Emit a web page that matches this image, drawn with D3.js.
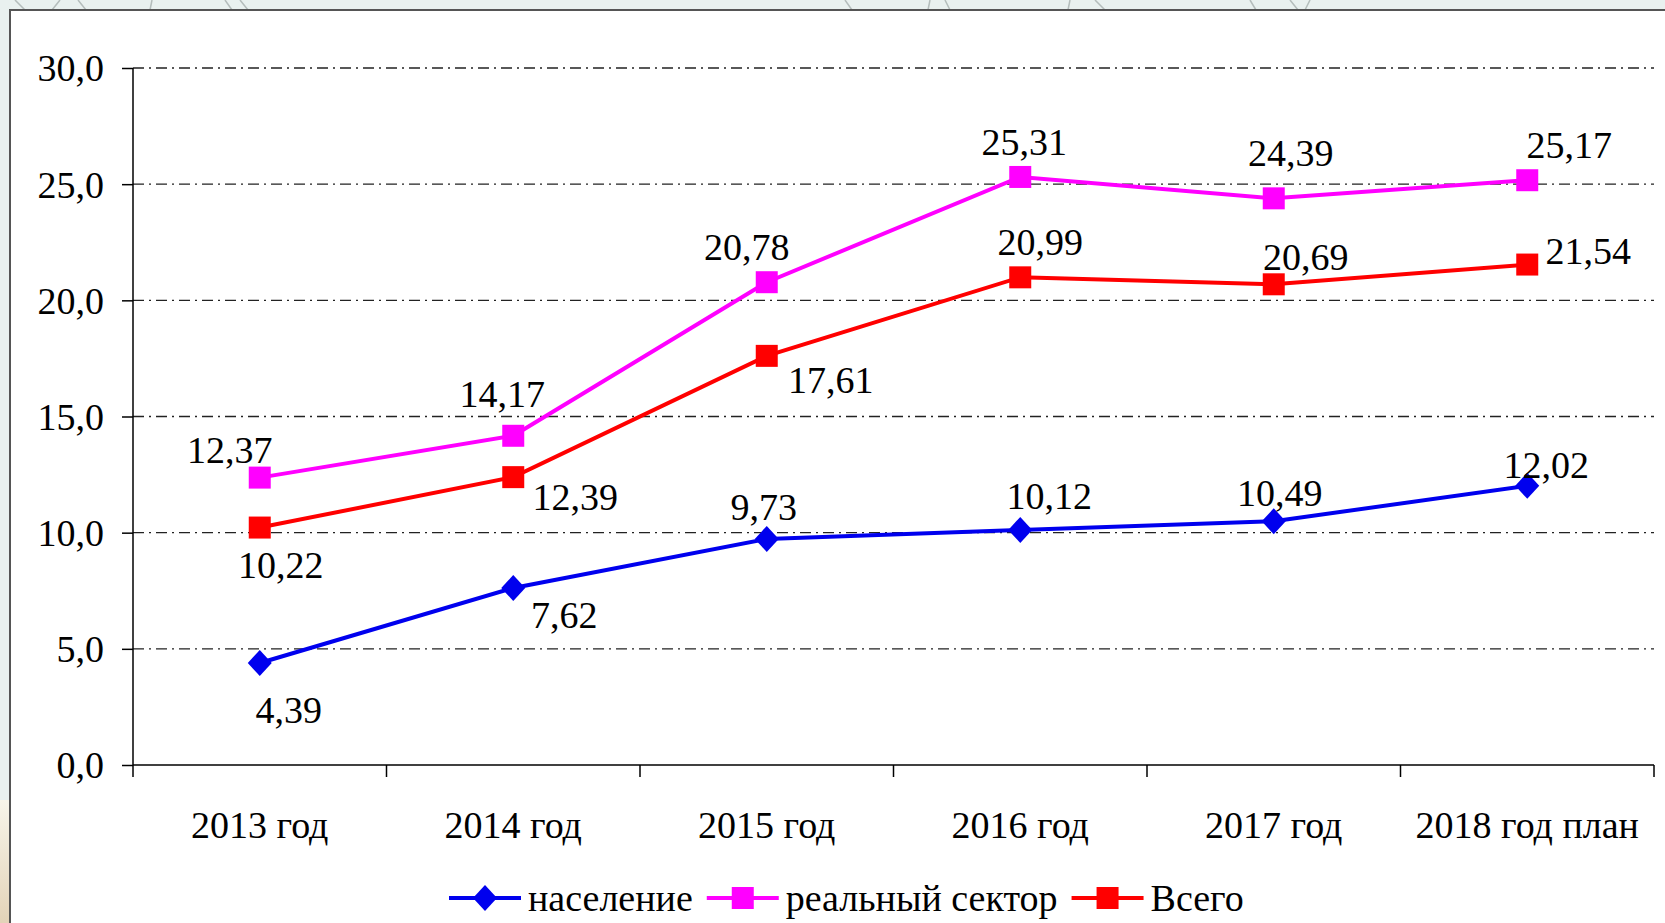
<html>
<head>
    <meta charset="utf-8">
    <title>Chart</title>
    <script src="https://d3js.org/d3.v7.min.js" charset="utf-8"></script>
    <style>
body {
    margin: 0;
    background: #e9f1ef;
}
text {
    font-family: "Liberation Serif", "Times New Roman", serif;
    fill: #000;
}
    </style>
</head>
<body>
    <script>
    var width = 1665;
    var height = 923;

    // data
    var years = ["2013 год", "2014 год", "2015 год", "2016 год", "2017 год", "2018 год план"];
    var naselenie = [4.39, 7.62, 9.73, 10.12, 10.49, 12.02];
    var realSector = [12.37, 14.17, 20.78, 25.31, 24.39, 25.17];
    var vsego = [10.22, 12.39, 17.61, 20.99, 20.69, 21.54];
    var yTicks = [0, 5, 10, 15, 20, 25, 30];
    var seriesNames = ["население", "реальный сектор", "Всего"];

    // label placement (offset of label centre from marker), like the original hand-placed labels
    var labelOffsets = {
        "население": [[29, 47], [51, 27], [-3, -32], [29, -34], [6, -28], [19, -21]],
        "реальный сектор": [[-30, -28], [-11, -42], [-20, -35], [4, -35], [17, -45], [42, -35]],
        "Всего": [[21, 38], [62, 20], [64, 24], [20, -35], [32, -27], [61, -13]]
    };

    var series = [
        {name: seriesNames[0], values: naselenie, color: "#0000ee", shape: "diamond"},
        {name: seriesNames[1], values: realSector, color: "#ff00ff", shape: "square"},
        {name: seriesNames[2], values: vsego, color: "#ff0000", shape: "square"}
    ];

    var fontSize = "38px";

    var svg = d3.select("body")
        .append("svg")
        .attr("width", width)
        .attr("height", height)
        .style("display", "block");

    // background outside the frame
    svg.append("rect").attr("width", width).attr("height", height).attr("fill", "#e9f1ef");
    var grad = svg.append("defs").append("linearGradient")
        .attr("id", "beige").attr("x1", 0).attr("y1", 0).attr("x2", 0).attr("y2", 1);
    grad.append("stop").attr("offset", "0%").attr("stop-color", "#f7f5ea");
    grad.append("stop").attr("offset", "100%").attr("stop-color", "#e3d3b8");
    svg.append("rect").attr("x", 0).attr("y", 800).attr("width", 12).attr("height", 123)
        .attr("fill", "url(#beige)");
    // faint sketch strokes peeking above the frame
    var sketch = [[15, 25], [60, 52], [78, 86], [152, 150], [225, 232], [240, 248],
                  [845, 852], [930, 928], [945, 950], [1070, 1068], [1095, 1105],
                  [1250, 1256], [1290, 1298], [1310, 1305]];
    svg.append("g").selectAll("line")
        .data(sketch)
        .enter().append("line")
        .attr("x1", function(d) { return d[0]; })
        .attr("x2", function(d) { return d[1]; })
        .attr("y1", 0).attr("y2", 10)
        .attr("stroke", "#b4bdbb").attr("stroke-width", 1.5);

    // white frame
    svg.append("rect")
        .attr("x", 10).attr("y", 10)
        .attr("width", width).attr("height", height)
        .attr("fill", "#fff")
        .attr("stroke", "#555")
        .attr("stroke-width", 2);

    var plotLeft = 133, plotRight = 1654, plotTop = 68, plotBottom = 765;

    var x = d3.scaleBand().domain(years).range([plotLeft, plotRight]);
    var y = d3.scaleLinear().domain([0, 30]).range([plotBottom, plotTop]);
    var fmt = function(v) { return d3.format(".1f")(v).replace(".", ","); };
    var fmt2 = function(v) { return d3.format(".2f")(v).replace(".", ","); };

    // grid lines (dash-dot)
    svg.append("g").selectAll("line")
        .data(yTicks.filter(function(d) { return d > 0; }))
        .enter().append("line")
        .attr("x1", plotLeft).attr("x2", plotRight)
        .attr("y1", function(d) { return y(d); })
        .attr("y2", function(d) { return y(d); })
        .attr("stroke", "#222")
        .attr("stroke-width", 1.3)
        .attr("stroke-dasharray", "11,5,2,5");

    // y axis
    var yAxis = d3.axisLeft(y)
        .tickValues(yTicks)
        .tickFormat(fmt)
        .tickSize(11)
        .tickPadding(18);
    var gy = svg.append("g")
        .attr("transform", "translate(" + plotLeft + ",0)")
        .call(yAxis);
    gy.select(".domain").attr("stroke", "#000").attr("stroke-width", 1.5)
        .attr("d", "M0," + plotBottom + "V" + plotTop);
    gy.selectAll(".tick line").attr("stroke", "#000").attr("stroke-width", 1.5);
    gy.selectAll(".tick text")
        .style("font-family", "'Liberation Serif', 'Times New Roman', serif")
        .style("font-size", fontSize)
        .attr("dy", "0.34em")
        .attr("fill", "#000");

    // x axis
    var gx = svg.append("g");
    gx.append("line")
        .attr("x1", plotLeft).attr("x2", plotRight)
        .attr("y1", plotBottom).attr("y2", plotBottom)
        .attr("stroke", "#000").attr("stroke-width", 1.5);
    var boundaries = years.map(function(d) { return x(d); }).concat([plotRight]);
    gx.selectAll(".xtick")
        .data(boundaries)
        .enter().append("line")
        .attr("class", "xtick")
        .attr("x1", function(d) { return d; })
        .attr("x2", function(d) { return d; })
        .attr("y1", plotBottom).attr("y2", plotBottom + 12)
        .attr("stroke", "#000").attr("stroke-width", 1.5);
    gx.selectAll("text")
        .data(years)
        .enter().append("text")
        .attr("x", function(d) { return x(d) + x.bandwidth() / 2; })
        .attr("y", 825)
        .attr("dy", "0.34em")
        .attr("text-anchor", "middle")
        .style("font-size", fontSize)
        .text(function(d) { return d; });

    function markerPath(shape) {
        if (shape === "diamond") {
            return "M0,-13L12,0L0,13L-12,0Z";
        }
        return "M-11,-11H11V11H-11Z";
    }

    var line = d3.line()
        .x(function(d, i) { return x(years[i]) + x.bandwidth() / 2; })
        .y(function(d) { return y(d); });

    var gs = svg.append("g").selectAll("g")
        .data(series)
        .enter().append("g");

    gs.append("path")
        .attr("d", function(s) { return line(s.values); })
        .attr("fill", "none")
        .attr("stroke", function(s) { return s.color; })
        .attr("stroke-width", 4);

    gs.each(function(s) {
        var g = d3.select(this);
        g.selectAll(".mark")
            .data(s.values)
            .enter().append("path")
            .attr("class", "mark")
            .attr("transform", function(d, i) {
                return "translate(" + (x(years[i]) + x.bandwidth() / 2) + "," + y(d) + ")";
            })
            .attr("d", markerPath(s.shape))
            .attr("fill", s.color);
    });

    // data labels
    gs.each(function(s) {
        var g = d3.select(this);
        var offs = labelOffsets[s.name];
        g.selectAll(".lbl")
            .data(s.values)
            .enter().append("text")
            .attr("class", "lbl")
            .attr("x", function(d, i) { return x(years[i]) + x.bandwidth() / 2 + offs[i][0]; })
            .attr("y", function(d, i) { return y(d) + offs[i][1]; })
            .attr("dy", "0.34em")
            .attr("text-anchor", "middle")
            .style("font-size", fontSize)
            .text(function(d) { return fmt2(d); });
    });

    // legend
    var legend = svg.append("g").attr("transform", "translate(449,898)");
    var lx = 0;
    series.forEach(function(s) {
        var item = legend.append("g").attr("transform", "translate(" + lx + ",0)");
        item.append("line")
            .attr("x1", 0).attr("x2", 72)
            .attr("stroke", s.color).attr("stroke-width", 4);
        item.append("path")
            .attr("transform", "translate(36,0)")
            .attr("d", markerPath(s.shape))
            .attr("fill", s.color);
        var t = item.append("text")
            .attr("x", 79)
            .attr("dy", "0.34em")
            .style("font-size", fontSize)
            .text(s.name);
        lx += 79 + t.node().getComputedTextLength() + 14;
    });
    </script>
</body>
</html>
